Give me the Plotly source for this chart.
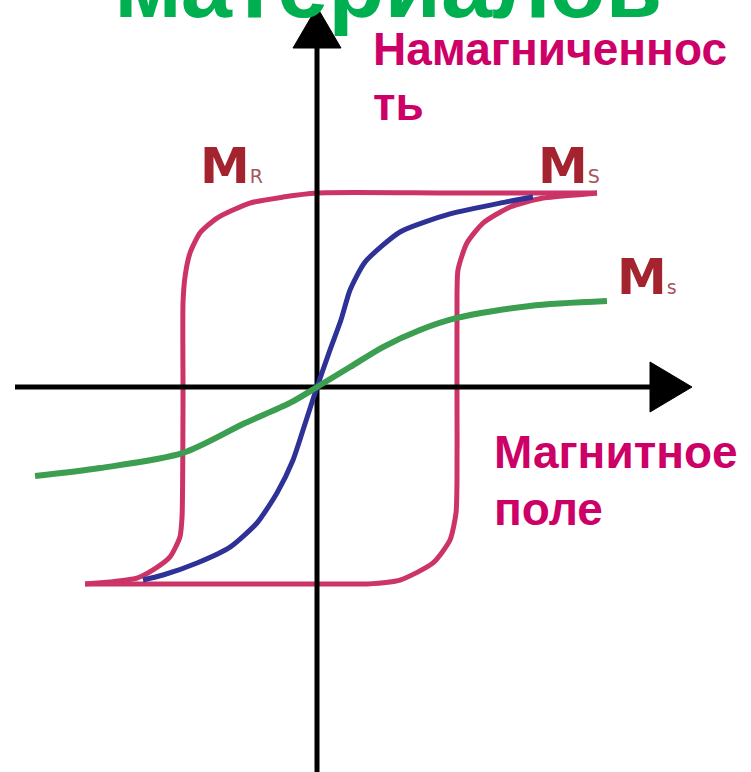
import plotly.graph_objects as go

W, H = 751, 772

# ---- data (H in units of coercive field, M in units of saturation) ----
loop_desc_h = [2.0, 0.95, 0.0, -0.243, -0.479, -0.714, -0.836, -0.907, -0.943, -0.957,
               -0.957, -0.964, -0.979, -1.05, -1.171, -1.286, -1.479, -1.657]
loop_desc_m = [1.0, 1.0, 1.0, 0.979, 0.948, 0.871, 0.794, 0.691, 0.567, 0.433,
               -0.067, -0.67, -0.773, -0.876, -0.943, -0.985, -1.005, -1.015]

loop_asc_h = [-1.657, -0.836, 0.0, 0.357, 0.593, 0.829, 0.95, 0.993, 1.0, 1.0, 1.0,
              1.007, 1.071, 1.186, 1.379, 1.614, 1.929, 2.0]
loop_asc_m = [-1.015, -1.015, -1.015, -1.015, -0.995, -0.907, -0.789, -0.649, -0.479,
              -0.067, 0.361, 0.603, 0.742, 0.845, 0.928, 0.974, 0.995, 1.0]

soft_h = [-1.243, -1.1, -0.857, -0.621, -0.429, -0.286, -0.171, -0.086, 0.0, 0.093,
          0.171, 0.236, 0.343, 0.593, 0.95, 1.307, 1.543]
soft_m = [-0.995, -0.969, -0.907, -0.825, -0.701, -0.546, -0.376, -0.191, 0.0, 0.191,
          0.345, 0.5, 0.644, 0.799, 0.892, 0.948, 0.979]

para_h = [-2.014, -1.55, -0.957, -0.514, -0.193, 0.0, 0.236, 0.471, 0.736, 1.0, 1.521, 2.071]
para_m = [-0.459, -0.418, -0.34, -0.186, -0.082, 0.0, 0.103, 0.206, 0.294, 0.356, 0.418, 0.443]

# ---- coordinate frame (pixel geometry of the drawing) ----
ORIGIN_PX = (317, 387)
PX_PER_H = 140.0
PX_PER_M = 194.0
x_range = [-ORIGIN_PX[0] / PX_PER_H, (W - ORIGIN_PX[0]) / PX_PER_H]
y_range = [-(H - ORIGIN_PX[1]) / PX_PER_M, ORIGIN_PX[1] / PX_PER_M]

def dx(px):
    return (px - ORIGIN_PX[0]) / PX_PER_H

def dy(py):
    return (ORIGIN_PX[1] - py) / PX_PER_M

PINK = "#CC3366"
BLUE = "#2E3196"
GREEN = "#3C9E50"
AXIS = "#000000"

fig = go.Figure()

# hysteresis loop
fig.add_trace(go.Scatter(x=loop_desc_h, y=loop_desc_m, mode="lines",
                         line=dict(color=PINK, width=5, shape="spline", smoothing=0.6),
                         hoverinfo="skip"))
fig.add_trace(go.Scatter(x=loop_asc_h, y=loop_asc_m, mode="lines",
                         line=dict(color=PINK, width=5, shape="spline", smoothing=0.6),
                         hoverinfo="skip"))

# axes (drawn as lines with arrowheads)
fig.add_trace(go.Scatter(x=[dx(15), dx(655)], y=[0, 0], mode="lines",
                         line=dict(color=AXIS, width=5), hoverinfo="skip"))
fig.add_trace(go.Scatter(x=[0, 0], y=[y_range[0], dy(45)], mode="lines",
                         line=dict(color=AXIS, width=5), hoverinfo="skip"))
fig.add_trace(go.Scatter(x=[dx(650), dx(692), dx(650), dx(650)],
                         y=[dy(362), 0, dy(412), dy(362)], mode="lines",
                         fill="toself", fillcolor=AXIS, line=dict(color=AXIS, width=1),
                         hoverinfo="skip"))
fig.add_trace(go.Scatter(x=[dx(293), 0, dx(341), dx(293)],
                         y=[dy(48), dy(7), dy(48), dy(48)], mode="lines",
                         fill="toself", fillcolor=AXIS, line=dict(color=AXIS, width=1),
                         hoverinfo="skip"))

# soft magnet and paramagnet curves
fig.add_trace(go.Scatter(x=soft_h, y=soft_m, mode="lines",
                         line=dict(color=BLUE, width=5, shape="spline", smoothing=0.6),
                         hoverinfo="skip"))
fig.add_trace(go.Scatter(x=para_h, y=para_m, mode="lines",
                         line=dict(color=GREEN, width=6, shape="spline", smoothing=0.8),
                         hoverinfo="skip"))

def px_paper(px, py):
    return px / W, 1 - py / H

MAG = "#CC0066"
MRED = "#A3232E"
SUBC = "#A65560"

annos = []
x, y = px_paper(388, 38)
annos.append(dict(x=x, y=y, xref="paper", yref="paper", xanchor="center", yanchor="bottom",
                  text="<b>материалов</b>", showarrow=False,
                  font=dict(family="Liberation Sans", size=92, color="#00B050")))

def mag_line(px, py_mid, txt):
    x, y = px_paper(px, py_mid)
    return dict(x=x, y=y, xref="paper", yref="paper", xanchor="left", yanchor="middle",
                text="<b>%s</b>" % txt, showarrow=False, align="left",
                font=dict(family="Liberation Sans", size=46, color=MAG))

annos.append(mag_line(371, 49, "Намагниченнос"))
annos.append(mag_line(371, 104, "ть"))
annos.append(mag_line(492, 452, "Магнитное"))
annos.append(mag_line(492, 509, "поле"))

def mlabel(px, py, sub):
    x, y = px_paper(px, py)
    return dict(x=x, y=y, xref="paper", yref="paper", xanchor="left", yanchor="middle",
                text="<b>M</b><span style='font-size:19px;color:%s'>%s</span>" % (SUBC, sub),
                showarrow=False,
                font=dict(family="DejaVu Sans", size=50, color=MRED))

annos.append(mlabel(198, 166, "R"))
annos.append(mlabel(536, 166, "S"))
annos.append(mlabel(615, 277, "s"))

fig.update_layout(
    width=W, height=H,
    margin=dict(l=0, r=0, t=0, b=0),
    paper_bgcolor="white", plot_bgcolor="white",
    showlegend=False,
    xaxis=dict(range=x_range, visible=False, fixedrange=True),
    yaxis=dict(range=y_range, visible=False, fixedrange=True),
    annotations=annos,
)

fig.write_html("out.html", config={"displayModeBar": False},
               post_script="document.body.style.margin='0px';")
